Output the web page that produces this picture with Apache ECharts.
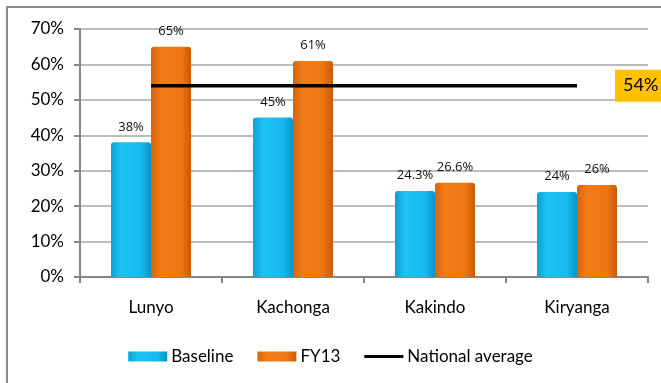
<!DOCTYPE html>
<html>
<head>
<meta charset="utf-8">
<script src="https://cdn.jsdelivr.net/npm/echarts@6/dist/echarts.min.js"></script>
<style>
  html, body { margin: 0; padding: 0; background: #fff; }
  #chart { width: 661px; height: 383px; }
</style>
</head>
<body>
<div id="chart"></div>
<script>
// Sites and their coverage values (percent)
const categories = ['Lunyo', 'Kachonga', 'Kakindo', 'Kiryanga'];
const baseline = [38, 45, 24.3, 24];
const fy13 = [65, 61, 26.6, 26];
const nationalAverage = [54, 54, 54, 54];
const yTicks = { min: 0, max: 70, step: 10 };

const FONT = 'Lato, "Open Sans", sans-serif';

const cyanFill = new echarts.graphic.LinearGradient(0, 0, 1, 0, [
  { offset: 0, color: '#0E9FD3' },
  { offset: 0.25, color: '#1EC3F4' },
  { offset: 0.75, color: '#14BAF0' },
  { offset: 1, color: '#0A93C6' }
]);
const orangeFill = new echarts.graphic.LinearGradient(0, 0, 1, 0, [
  { offset: 0, color: '#D8640A' },
  { offset: 0.25, color: '#F27C16' },
  { offset: 0.75, color: '#EE7712' },
  { offset: 1, color: '#C95A08' }
]);

const valueLabel = {
  show: true,
  position: 'top',
  distance: 9,
  color: '#111',
  fontFamily: '"Open Sans", sans-serif',
  fontSize: 13,
  formatter: p => p.value + '%'
};

const chart = echarts.init(document.getElementById('chart'), null, { renderer: 'canvas' });

chart.setOption({
  animation: false,
  backgroundColor: '#fff',
  textStyle: { fontFamily: FONT },
  graphic: [{
    type: 'rect',
    shape: { x: 7, y: 7, width: 720, height: 420 },
    style: { fill: 'none', stroke: '#8c8c8c', lineWidth: 2 },
    silent: true,
    z: -1
  }],
  grid: { left: 80, right: 13, top: 29, bottom: 106, containLabel: false },
  legend: {
    bottom: 13,
    left: 'center',
    itemWidth: 39,
    itemHeight: 10,
    itemGap: 24,
    textStyle: { color: '#000', fontSize: 17, fontFamily: FONT, padding: [0, 0, 0, -1] },
    data: [
      { name: 'Baseline', icon: 'rect' },
      { name: 'FY13', icon: 'rect' },
      { name: 'National average', icon: 'path://M0,0 H40 V3 H0 Z' }
    ]
  },
  xAxis: {
    type: 'category',
    data: categories,
    axisLine: { lineStyle: { color: '#868686', width: 2 } },
    axisTick: { show: true, length: 6, lineStyle: { color: '#868686', width: 2 } },
    axisLabel: { color: '#000', fontSize: 17, margin: 22, fontFamily: FONT }
  },
  yAxis: {
    type: 'value',
    min: yTicks.min,
    max: yTicks.max,
    interval: yTicks.step,
    axisLine: { show: true, lineStyle: { color: '#868686', width: 2 } },
    axisTick: { show: true, length: 6, lineStyle: { color: '#868686', width: 2 } },
    axisLabel: { color: '#000', fontSize: 17, margin: 16, fontFamily: FONT, formatter: '{value}%' },
    splitLine: { show: true, lineStyle: { color: '#a6a6a6', width: 1.5 } }
  },
  series: [
    {
      name: 'Baseline',
      type: 'bar',
      data: baseline,
      barWidth: 40,
      barGap: '0%',
      itemStyle: { color: cyanFill, borderRadius: [3, 3, 0, 0] },
      label: valueLabel,
      z: 2
    },
    {
      name: 'FY13',
      type: 'bar',
      data: fy13,
      barWidth: 40,
      barGap: '0%',
      itemStyle: { color: orangeFill, borderRadius: [3, 3, 0, 0] },
      label: valueLabel,
      z: 2
    },
    {
      name: 'National average',
      type: 'line',
      data: nationalAverage,
      symbol: 'none',
      lineStyle: { color: '#000', width: 3.5 },
      itemStyle: { color: '#000' },
      z: 5,
      endLabel: {
        show: true,
        formatter: p => p.value + '%',
        color: '#000',
        fontSize: 18,
        fontFamily: FONT,
        backgroundColor: '#FFC000',
        padding: [7, 8, 7, 8],
        distance: 38
      }
    }
  ]
});
</script>
</body>
</html>
